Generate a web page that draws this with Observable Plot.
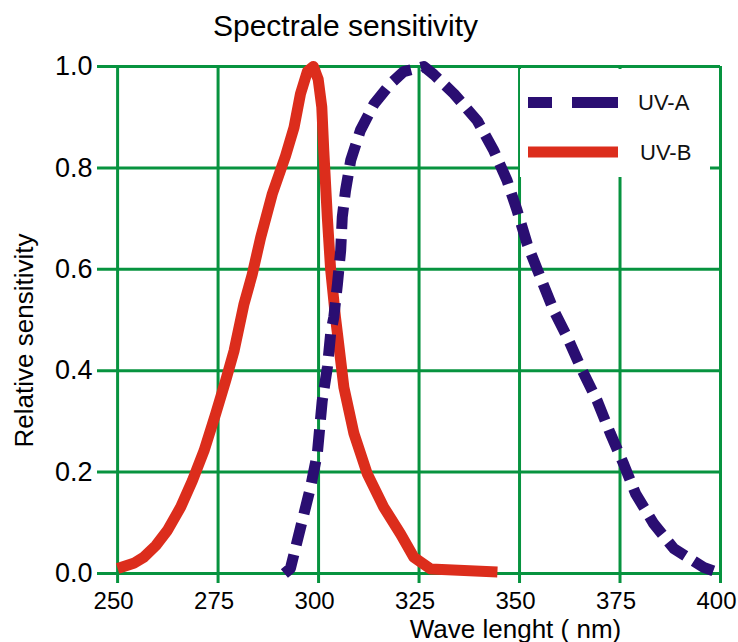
<!DOCTYPE html>
<html>
<head>
<meta charset="utf-8">
<script src="https://cdn.jsdelivr.net/npm/d3@7"></script>
<script src="https://cdn.jsdelivr.net/npm/@observablehq/plot@0.6"></script>
<style>
  html, body { margin: 0; padding: 0; background: white; }
  #wrap { position: relative; width: 738px; height: 642px; font-family: "Liberation Sans", Arial, sans-serif; }
  #legend { position: absolute; left: 520px; top: 69px; width: 190px; height: 108px; background: white; }
</style>
</head>
<body>
<div id="wrap"></div>
<script>
// ---- data ----
const chartTitle = "Spectrale sensitivity";
const xLabel = "Wave lenght ( nm)";
const yLabel = "Relative sensitivity";
const seriesNames = ["UV-A", "UV-B"];
const xTicks = [250, 275, 300, 325, 350, 375, 400];
const yTicks = [0, 0.2, 0.4, 0.6, 0.8, 1.0];

const uvA_nm  = [291.5, 293, 295.5, 298, 299.7, 300.9, 302.2, 303, 303.8, 304.7, 305.5, 305.9, 306.7, 308, 310.4, 313.8, 317.9, 321.2, 326.2, 328.7, 333.7, 339.5, 343.6, 346.9, 349.4, 351.9, 355.2, 358.5, 361.9, 365.2, 369.3, 372.6, 375.9, 378.9, 383.4, 388.4, 395.8, 399];
const uvA_val = [0.0, 0.01, 0.09, 0.17, 0.237, 0.34, 0.407, 0.473, 0.506, 0.571, 0.637, 0.703, 0.755, 0.815, 0.874, 0.926, 0.966, 0.99, 1.0, 0.984, 0.946, 0.893, 0.834, 0.775, 0.716, 0.65, 0.584, 0.519, 0.466, 0.407, 0.341, 0.276, 0.216, 0.157, 0.098, 0.049, 0.012, 0.003];

const uvB_nm  = [250, 254, 256.5, 259.5, 262.4, 265.7, 268.6, 271.5, 274.4, 276.9, 279, 281.4, 283.5, 285.6, 288.5, 291.8, 293.9, 295.5, 297.2, 298.7, 299.9, 300.8, 301.3, 302.2, 303, 304.2, 304.7, 306.3, 308.8, 312.1, 316.2, 320.4, 323.7, 327.9, 344.5];
const uvB_val = [0.01, 0.02, 0.032, 0.055, 0.085, 0.131, 0.183, 0.242, 0.315, 0.381, 0.44, 0.53, 0.59, 0.663, 0.749, 0.824, 0.88, 0.946, 0.99, 1.0, 0.975, 0.92, 0.834, 0.70, 0.60, 0.506, 0.473, 0.367, 0.276, 0.197, 0.131, 0.078, 0.032, 0.009, 0.003];

// ---- styles ----
const green = "#07933f";
const blue = "#2a0e72";
const red = "#dc2d1c";
const font = "'Liberation Sans', Arial, sans-serif";

const uvA = uvA_nm.map((x, i) => ({x, y: uvA_val[i]}));
const uvB = uvB_nm.map((x, i) => ({x, y: uvB_val[i]}));

const plot = Plot.plot({
  width: 738,
  height: 642,
  marginLeft: 97,
  marginRight: 18,
  marginTop: 66,
  marginBottom: 69,
  style: {fontFamily: font, fontSize: "26px", color: "black", background: "white"},
  x: {domain: [245, 400]},
  y: {domain: [0, 1]},
  marks: [
    Plot.ruleY(yTicks, {stroke: green, strokeWidth: 3}),
    Plot.ruleX(xTicks, {stroke: green, strokeWidth: 3, insetBottom: -10}),
    Plot.line(uvB, {x: "x", y: "y", stroke: red, strokeWidth: 11, strokeLinecap: "butt", strokeLinejoin: "round"}),
    Plot.line(uvA, {x: "x", y: "y", stroke: blue, strokeWidth: 11, strokeDasharray: "22,10", strokeLinecap: "butt", strokeLinejoin: "round"}),
    Plot.axisY(yTicks, {tickSize: 0, tickPadding: 5, tickFormat: d3.format(".1f"), fontSize: 27, label: null, fill: "black"}),
    Plot.axisX(xTicks, {tickSize: 0, tickPadding: 18, tickFormat: d3.format("d"), fontSize: 24, dx: -4, label: null, fill: "black"}),
    Plot.text([chartTitle], {frameAnchor: "top", textAnchor: "middle", dx: -63.5, dy: -31, lineAnchor: "bottom", fontSize: 30, fill: "black"}),
    Plot.text([xLabel], {frameAnchor: "bottom", textAnchor: "middle", dx: 106.5, dy: 64, lineAnchor: "bottom", fontSize: 26, fill: "black"}),
    Plot.text([yLabel], {frameAnchor: "left", textAnchor: "middle", rotate: -90, dx: -65, dy: 20.5, lineAnchor: "bottom", fontSize: 26, fill: "black"})
  ]
});

const wrap = document.getElementById("wrap");
wrap.appendChild(plot);

// legend overlay
const legend = document.createElement("div");
legend.id = "legend";
const ns = "http://www.w3.org/2000/svg";
const lsvg = document.createElementNS(ns, "svg");
lsvg.setAttribute("width", 190);
lsvg.setAttribute("height", 108);
const ox = 520, oy = 69;
const items = [
  {name: seriesNames[0], color: blue, dash: "24,20,46,40", y: 102.5, tx: 638},
  {name: seriesNames[1], color: red, dash: null, y: 152, tx: 640}
];
for (const it of items) {
  const l = document.createElementNS(ns, "line");
  l.setAttribute("x1", 528 - ox);
  l.setAttribute("x2", 618 - ox);
  l.setAttribute("y1", it.y - oy);
  l.setAttribute("y2", it.y - oy);
  l.setAttribute("stroke", it.color);
  l.setAttribute("stroke-width", 11);
  if (it.dash) l.setAttribute("stroke-dasharray", it.dash);
  lsvg.appendChild(l);
  const t = document.createElementNS(ns, "text");
  t.setAttribute("x", it.tx - ox);
  t.setAttribute("y", it.y - oy);
  t.setAttribute("dy", "0.36em");
  t.setAttribute("font-size", 22);
  t.setAttribute("font-family", font);
  t.setAttribute("fill", "#111");
  t.textContent = it.name;
  lsvg.appendChild(t);
}
legend.appendChild(lsvg);
wrap.appendChild(legend);
</script>
</body>
</html>
